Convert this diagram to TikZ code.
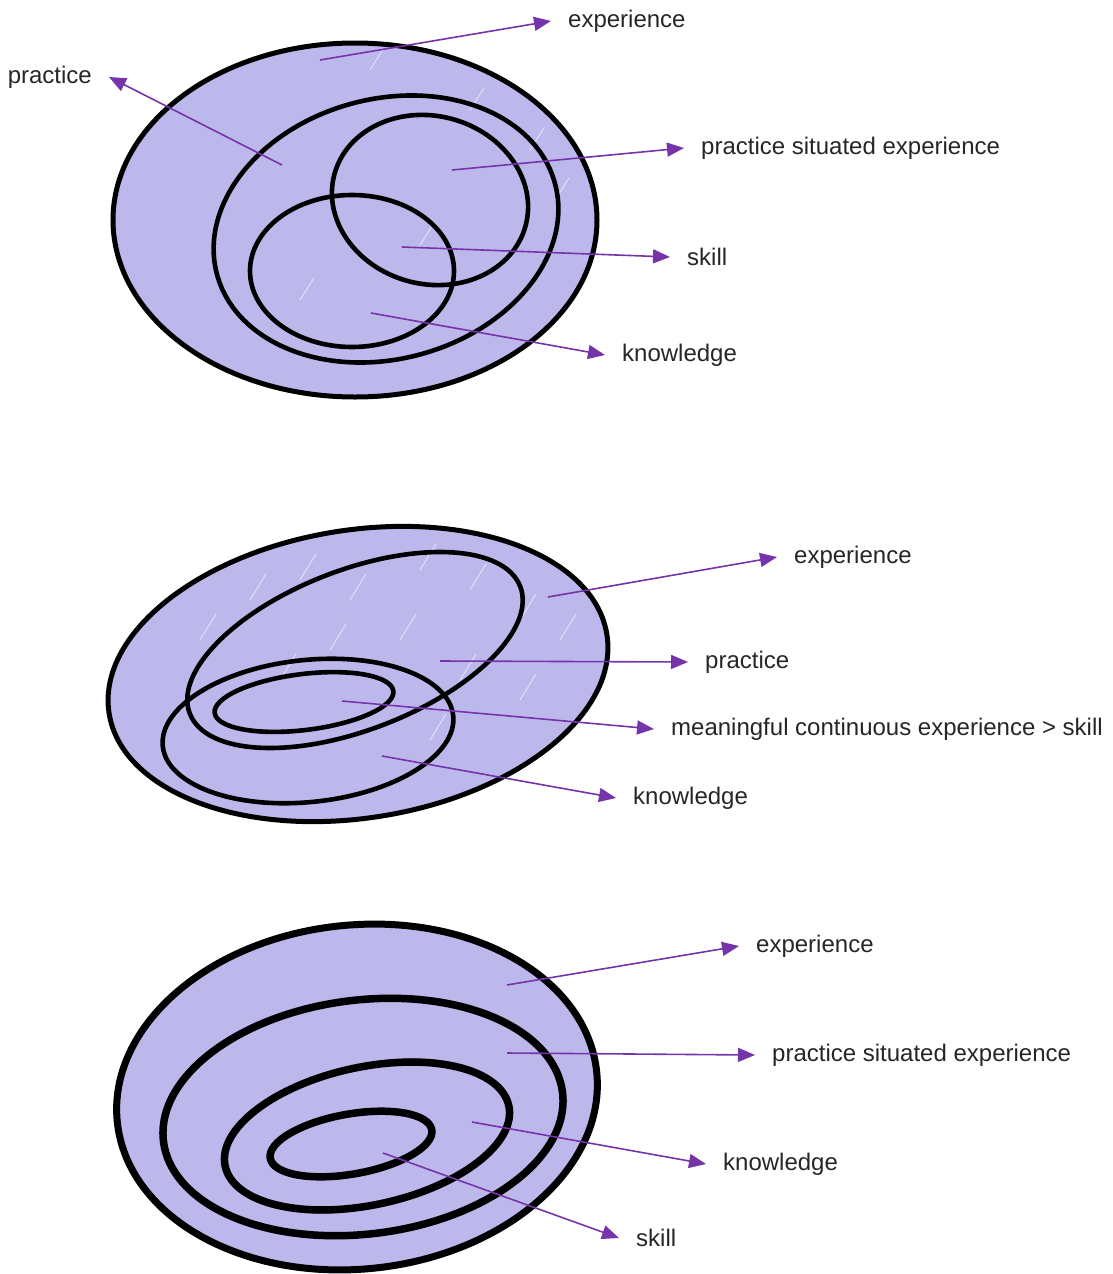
\documentclass[tikz,border=0pt]{standalone}
\usepackage{fontspec}
\setmainfont{Liberation Sans}
\usetikzlibrary{arrows.meta}
\definecolor{lav}{RGB}{188,184,236}
\definecolor{arrp}{RGB}{118,52,170}
\definecolor{txt}{RGB}{38,38,38}
\tikzset{
  outerring/.style={draw=black, line width=5pt, fill=lav},
  ring/.style={draw=black, line width=4.6pt},
  thickring/.style={draw=black, line width=7.5pt},
  roughline/.style={draw=black, line width=0.8pt, opacity=0.45},
  streak/.style={draw=white, line width=1pt, opacity=0.55, line cap=round},
  pointer/.style={draw=arrp, line width=1.6pt, -{Triangle[length=17pt,width=14pt]}},
  lbl/.style={text=txt, font=\fontsize{24}{28}\selectfont, inner xsep=17pt, inner ysep=2pt},
}
\begin{document}
\begin{tikzpicture}[x=1pt,y=1pt]
\useasboundingbox (0,0) rectangle (1113,-1274);

% ---------- Diagram 1 ----------
\draw[outerring] (355,-220) ellipse [x radius=242, y radius=177];
\begin{scope}
\clip (355,-220) ellipse [x radius=236, y radius=171];
\foreach \x/\y in {370/-70, 470/-110, 530/-150, 555/-200, 420/-245, 480/-60, 300/-300}
  \draw[streak] (\x,\y) -- ++(14,22);
\end{scope}
\draw[ring, rotate around={15:(386,-229)}] (386,-229) ellipse [x radius=175, y radius=130];
\draw[ring, rotate around={-15:(430,-200)}] (430,-200) ellipse [x radius=99, y radius=84];
\draw[ring] (352,-271) ellipse [x radius=102, y radius=76];

\coordinate (a1) at (320,-60);
\coordinate (a2) at (282,-165);
\coordinate (a3) at (452,-170);
\coordinate (a4) at (402,-247);
\coordinate (a5) at (371,-313);
\node[lbl, anchor=west] (l1) at (551,-21) {experience};
\node[lbl, anchor=east] (l2) at (109,-77) {practice};
\node[lbl, anchor=west] (l3) at (684,-148) {practice situated experience};
\node[lbl, anchor=west] (l4) at (670,-257) {skill};
\node[lbl, anchor=west] (l5) at (605,-355) {knowledge};
\draw[pointer] (a1) -- (l1.west);
\draw[pointer] (a2) -- (l2.east);
\draw[pointer] (a3) -- (l3.west);
\draw[pointer] (a4) -- (l4.west);
\draw[pointer] (a5) -- (l5.west);

% ---------- Diagram 2 ----------
\draw[outerring, rotate around={9:(358,-674)}] (358,-674) ellipse [x radius=252, y radius=144];
\begin{scope}
\clip[rotate around={9:(358,-674)}] (358,-674) ellipse [x radius=246, y radius=138];
\foreach \x/\y in {250/-600, 300/-580, 350/-600, 420/-570, 470/-590, 520/-620, 560/-640, 330/-650, 400/-640, 460/-680, 280/-680, 520/-700, 430/-740, 200/-640}
  \draw[streak] (\x,\y) -- ++(16,26);
\end{scope}
\draw[ring, rotate around={21:(355,-650)}] (355,-650) ellipse [x radius=177, y radius=80];
\draw[ring, rotate around={6:(308,-731)}] (308,-731) ellipse [x radius=146, y radius=71];
\draw[ring, rotate around={7:(304,-702)}] (304,-702) ellipse [x radius=90, y radius=28];

\coordinate (b1) at (548,-597);
\coordinate (b2) at (440,-661);
\coordinate (b3) at (342,-701);
\coordinate (b4) at (382,-756);
\node[lbl, anchor=west] (m1) at (777,-557) {experience};
\node[lbl, anchor=west] (m2) at (688,-662) {practice};
\node[lbl, anchor=west] (m3) at (654,-729) {meaningful continuous experience > skill};
\node[lbl, anchor=west] (m4) at (616,-798) {knowledge};
\draw[pointer] (b1) -- (m1.west);
\draw[pointer] (b2) -- (m2.west);
\draw[pointer] (b3) -- (m3.west);
\draw[pointer] (b4) -- (m4.west);

% ---------- Diagram 3 ----------
\draw[outerring, line width=7pt, rotate around={6:(357,-1097)}] (357,-1097) ellipse [x radius=241, y radius=172];
\draw[roughline, rotate around={7:(357,-1097)}] (357,-1097) ellipse [x radius=243, y radius=174];
\draw[thickring, rotate around={7:(363,-1117)}] (363,-1117) ellipse [x radius=201, y radius=117];
\draw[roughline, rotate around={8:(363,-1117)}] (363,-1117) ellipse [x radius=203, y radius=119.5];
\draw[thickring, rotate around={12:(367,-1136)}] (367,-1136) ellipse [x radius=145, y radius=69];
\draw[roughline, rotate around={13:(367,-1136)}] (367,-1136) ellipse [x radius=147, y radius=71.5];
\draw[thickring, rotate around={10:(351,-1144)}] (351,-1144) ellipse [x radius=82, y radius=30];
\draw[roughline, rotate around={11:(351,-1144)}] (351,-1144) ellipse [x radius=84, y radius=32.5];

\coordinate (c1) at (507,-985);
\coordinate (c2) at (507,-1053);
\coordinate (c3) at (472,-1122);
\coordinate (c4) at (383,-1153);
\node[lbl, anchor=west] (n1) at (739,-946) {experience};
\node[lbl, anchor=west] (n2) at (755,-1055) {practice situated experience};
\node[lbl, anchor=west] (n3) at (706,-1164) {knowledge};
\node[lbl, anchor=west] (n4) at (619,-1238) {skill};
\draw[pointer] (c1) -- (n1.west);
\draw[pointer] (c2) -- (n2.west);
\draw[pointer] (c3) -- (n3.west);
\draw[pointer] (c4) -- (n4.west);
\end{tikzpicture}
\end{document}
